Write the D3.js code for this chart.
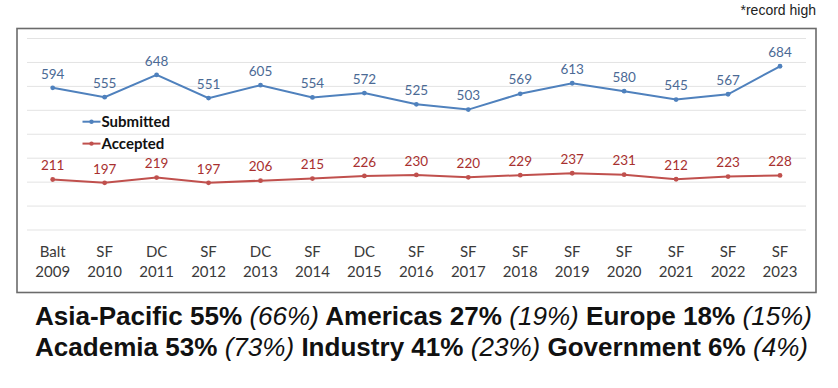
<!DOCTYPE html>
<html>
<head>
<meta charset="utf-8">
<script src="https://cdn.jsdelivr.net/npm/d3@7"></script>
<style>
  html, body { margin: 0; padding: 0; background: #fff; }
  svg { display: block; }
</style>
</head>
<body>
<svg id="chart" width="838" height="388"></svg>
<script>
// venue line and year for each conference
const venues = ["Balt", "SF", "DC", "SF", "DC", "SF", "DC", "SF", "SF", "SF", "SF", "SF", "SF", "SF", "SF"];
const years = ["2009", "2010", "2011", "2012", "2013", "2014", "2015", "2016", "2017", "2018", "2019", "2020", "2021", "2022", "2023"];
const submitted = [594, 555, 648, 551, 605, 554, 572, 525, 503, 569, 613, 580, 545, 567, 684];
const accepted = [211, 197, 219, 197, 206, 215, 226, 230, 220, 229, 237, 231, 212, 223, 228];
const gridTicks = [0, 100, 200, 300, 400, 500, 600, 700, 800];

const footLines = [
  [["Asia-Pacific 55% ", "b"], ["(66%)", "i"], [" Americas 27% ", "b"], ["(19%)", "i"], [" Europe 18% ", "b"], ["(15%)", "i"]],
  [["Academia 53% ", "b"], ["(73%)", "i"], [" Industry 41% ", "b"], ["(23%)", "i"], [" Government 6% ", "b"], ["(4%)", "i"]]
];

const blue = "#4f81bd", blueText = "#4b6a95";
const red = "#c0504d", redText = "#a8302f";

const svg = d3.select("#chart");

const x = d3.scalePoint()
  .domain(years)
  .range([52.7, 780]);

const y = d3.scaleLinear()
  .domain([0, 800])
  .range([230, 38.5]);

// frame
svg.append("rect")
  .attr("x", 17).attr("y", 28.5)
  .attr("width", 799).attr("height", 264)
  .attr("fill", "none")
  .attr("stroke", "#6b6b6b")
  .attr("stroke-width", 1.6);

// gridlines
svg.append("g")
  .selectAll("line")
  .data(gridTicks)
  .join("line")
    .attr("x1", 27).attr("x2", 806)
    .attr("y1", d => y(d)).attr("y2", d => y(d))
    .attr("stroke", "#e3e3e3")
    .attr("stroke-width", 1);

// x labels
const xl = svg.append("g")
  .attr("font-family", "Lato, 'Open Sans', sans-serif")
  .attr("font-size", 15)
  .attr("fill", "#3a3a3a")
  .attr("text-anchor", "middle");
xl.selectAll("text.v")
  .data(years)
  .join("text")
    .attr("class", "v")
    .attr("x", d => x(d)).attr("y", 256.7)
    .text((d, i) => venues[i]);
xl.selectAll("text.yr")
  .data(years)
  .join("text")
    .attr("class", "yr")
    .attr("x", d => x(d)).attr("y", 277.3)
    .text(d => d);

const line = d3.line()
  .x((d, i) => x(years[i]))
  .y(d => y(d));

function drawSeries(vals, col, txtCol) {
  const g = svg.append("g");
  g.append("path")
    .attr("d", line(vals))
    .attr("fill", "none")
    .attr("stroke", col)
    .attr("stroke-width", 2);
  g.selectAll("circle")
    .data(vals)
    .join("circle")
      .attr("cx", (d, i) => x(years[i]))
      .attr("cy", d => y(d))
      .attr("r", 2.4)
      .attr("fill", col);
  g.selectAll("text")
    .data(vals)
    .join("text")
      .attr("x", (d, i) => x(years[i]))
      .attr("y", d => y(d) - 9.3)
      .attr("text-anchor", "middle")
      .attr("font-family", "Lato, 'Open Sans', sans-serif")
      .attr("font-size", 13.5)
      .attr("fill", txtCol)
      .text(d => d);
}
drawSeries(submitted, blue, blueText);
drawSeries(accepted, red, redText);

// legend
const legend = [["Submitted", blue, 121.7], ["Accepted", red, 143.6]];
const lg = svg.append("g");
legend.forEach(([name, col, ly]) => {
  lg.append("line")
    .attr("x1", 82.5).attr("x2", 100.5)
    .attr("y1", ly).attr("y2", ly)
    .attr("stroke", col).attr("stroke-width", 2);
  lg.append("circle")
    .attr("cx", 91.5).attr("cy", ly).attr("r", 2.2).attr("fill", col);
  lg.append("text")
    .attr("x", 101.5).attr("y", ly + 5.4)
    .attr("font-family", "Lato, 'Open Sans', sans-serif")
    .attr("font-weight", "bold")
    .attr("font-size", 15)
    .attr("fill", "#111")
    .text(name);
});

// note
svg.append("text")
  .attr("x", 816).attr("y", 15)
  .attr("text-anchor", "end")
  .attr("font-family", "'Liberation Sans', Arial, sans-serif")
  .attr("font-size", 14)
  .attr("fill", "#222")
  .text("*record high");

// footer lines
const footY = [325, 356];
const footRight = [812, 808];
footLines.forEach((parts, li) => {
  const t = svg.append("text")
    .attr("x", 35).attr("y", footY[li])
    .attr("font-family", "'Liberation Sans', Arial, sans-serif")
    .attr("font-size", 26)
    .attr("fill", "#111")
    .attr("textLength", footRight[li] - 35)
    .attr("lengthAdjust", "spacingAndGlyphs")
    .attr("xml:space", "preserve")
    .style("white-space", "pre");
  parts.forEach(([s, k]) => {
    t.append("tspan")
      .attr("font-weight", k === "b" ? "bold" : "normal")
      .attr("font-style", k === "i" ? "italic" : "normal")
      .text(s);
  });
});
</script>
</body>
</html>
